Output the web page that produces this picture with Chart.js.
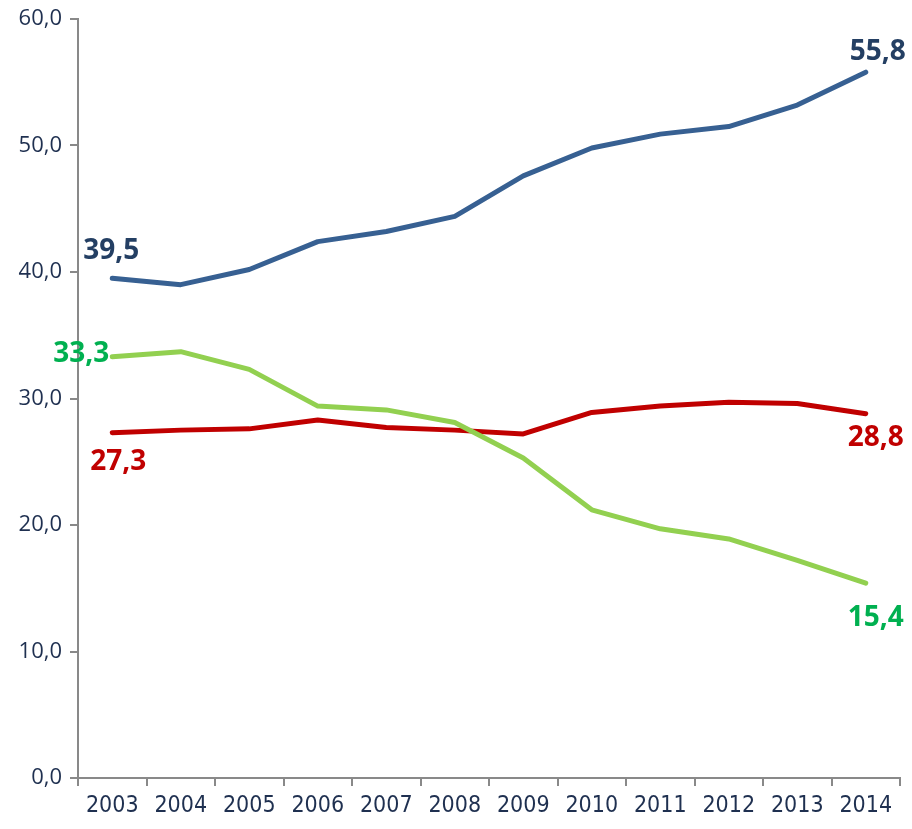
<!DOCTYPE html>
<html>
<head>
<meta charset="utf-8">
<script src="https://cdn.jsdelivr.net/npm/chart.js@4"></script>
<style>
  html, body { margin: 0; padding: 0; background: #fff; }
  #wrap { width: 912px; height: 829px; }
</style>
</head>
<body>
<div id="wrap"><canvas id="chart" width="912" height="829"></canvas></div>
<script>
// Data
const years = ['2003', '2004', '2005', '2006', '2007', '2008', '2009', '2010', '2011', '2012', '2013', '2014'];
const blueValues = [39.5, 39.0, 40.2, 42.4, 43.2, 44.4, 47.6, 49.8, 50.9, 51.5, 53.2, 55.8];
const greenValues = [33.3, 33.7, 32.3, 29.4, 29.1, 28.1, 25.3, 21.2, 19.7, 18.9, 17.2, 15.4];
const redValues = [27.3, 27.5, 27.6, 28.3, 27.7, 27.5, 27.2, 28.9, 29.4, 29.7, 29.6, 28.8];
const yTicks = [0, 10, 20, 30, 40, 50, 60];

const axisColor = '#898989';
const textColor = '#1F3050';
const fontFamily = '"Liberation Sans Narrow", "DejaVu Sans Condensed", "Liberation Sans", sans-serif';

function fmt(v) {
  return v.toFixed(1).replace('.', ',');
}

// Labels on first and last points of each series
const endLabels = {
  id: 'endLabels',
  afterDatasetsDraw(chart) {
    const ctx = chart.ctx;
    ctx.save();
    ctx.font = 'bold 28px "Open Sans", "DejaVu Sans", sans-serif';
    chart.data.datasets.forEach((ds, i) => {
      const meta = chart.getDatasetMeta(i);
      const first = meta.data[0];
      const last = meta.data[meta.data.length - 1];
      ctx.fillStyle = ds.labelColor;
      const pos = ds.labelPos;
      [[first, ds.data[0], pos.first], [last, ds.data[ds.data.length - 1], pos.last]].forEach(([pt, v, p]) => {
        ctx.textAlign = p.align;
        ctx.textBaseline = 'middle';
        ctx.fillText(fmt(v), pt.x + p.dx, pt.y + p.dy);
      });
    });
    ctx.restore();
  }
};

const ctx = document.getElementById('chart').getContext('2d');
new Chart(ctx, {
  type: 'line',
  data: {
    labels: years,
    datasets: [
      {
        label: 'blue',
        data: blueValues,
        borderColor: '#376092',
        labelColor: '#243F63',
        labelPos: { first: { align: 'center', dx: -1, dy: -27 }, last: { align: 'center', dx: 12, dy: -20 } }
      },
      {
        label: 'green',
        data: greenValues,
        borderColor: '#92D050',
        labelColor: '#00B050',
        labelPos: { first: { align: 'right', dx: -3, dy: -3 }, last: { align: 'center', dx: 10, dy: 35 } }
      },
      {
        label: 'red',
        data: redValues,
        borderColor: '#C00000',
        labelColor: '#C00000',
        labelPos: { first: { align: 'center', dx: 6, dy: 29 }, last: { align: 'center', dx: 10, dy: 24 } }
      }
    ].map(ds => Object.assign({
      borderWidth: 5,
      pointRadius: 0,
      pointHoverRadius: 0,
      tension: 0,
      fill: false,
      borderCapStyle: 'round',
      borderJoinStyle: 'round'
    }, ds))
  },
  options: {
    responsive: false,
    animation: false,
    events: [],
    layout: { padding: { top: 16, right: 12, left: 0, bottom: 0 } },
    plugins: {
      legend: { display: false },
      tooltip: { enabled: false }
    },
    scales: {
      x: {
        offset: true,
        grid: {
          offset: true,
          drawOnChartArea: false,
          drawTicks: true,
          tickLength: 8,
          color: axisColor,
          lineWidth: 2
        },
        border: { color: axisColor, width: 2 },
        ticks: {
          color: textColor,
          font: { family: fontFamily, size: 23 },
          padding: 6,
          maxRotation: 0,
          autoSkip: false
        },
        afterFit(scale) { scale.height = 51; }
      },
      y: {
        min: 0,
        max: 60,
        afterBuildTicks(scale) { scale.ticks = yTicks.map(v => ({ value: v })); },
        grid: {
          drawOnChartArea: false,
          drawTicks: true,
          tickLength: 8,
          color: axisColor,
          lineWidth: 2
        },
        border: { color: axisColor, width: 2 },
        ticks: {
          color: textColor,
          font: { family: '"Open Sans", "DejaVu Sans", sans-serif', size: 22, lineHeight: 1 },
          padding: 8,
          callback: v => fmt(v)
        },
        afterFit(scale) { scale.width = 78; }
      }
    }
  },
  plugins: [endLabels]
});
</script>
</body>
</html>
